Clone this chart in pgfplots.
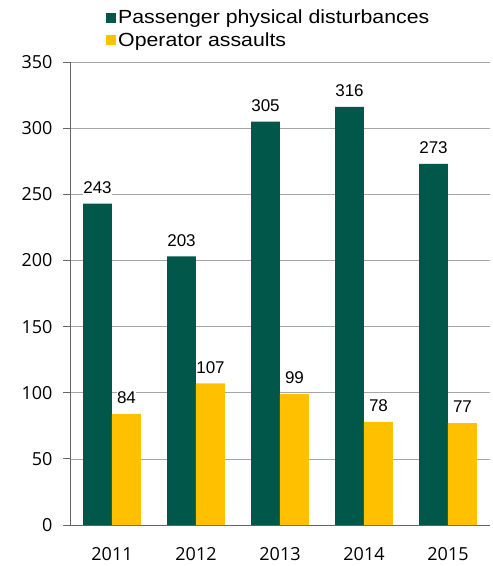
\documentclass[border=0pt]{standalone}
\usepackage{fontspec}
\setmainfont{Liberation Sans}
\newfontfamily\tickfont{Open Sans}
\newfontfamily\legendfont{Liberation Sans}[FakeStretch=1.12]
\usepackage{pgfplots}
\pgfplotsset{compat=1.18}
\definecolor{pgreen}{HTML}{02574B}
\definecolor{oyellow}{HTML}{FFC000}
\definecolor{gridgray}{HTML}{A6A6A6}
\begin{document}
\begin{tikzpicture}
\begin{axis}[
  scale only axis,
  width=420pt, height=463pt,
  ybar=0pt,
  bar width=0.345,
  xmin=-0.5, xmax=4.5,
  ymin=0, ymax=350,
  ytick={0,50,...,350},
  xtick={0,1,2,3,4},
  xticklabels={2011,2012,2013,2014,2015},
  major x tick style={draw=none},
  extra x ticks={-0.5,0.5,1.5,2.5,3.5,4.5},
  extra x tick labels={},
  extra x tick style={major tick length=7pt, tick style={draw=black!70, line width=0.8pt}, xtick align=outside},
  axis x line*=bottom, axis y line*=left,
  axis line style={-, draw=black!60, line width=0.8pt},
  ytick align=outside, ytick style={draw=black!60, line width=0.8pt},
  major tick length=7pt,
  ymajorgrids, grid style={gridgray, line width=0.7pt},
  tick label style={font=\tickfont\fontsize{18}{20}\selectfont},
  xticklabel style={yshift=-12pt},
  yticklabel style={xshift=-7pt},
  /pgf/number format/assume math mode=true,
  nodes near coords,
  every node near coord/.append style={font=\fontsize{17}{19}\selectfont, black, fill=white, inner xsep=0pt, inner ysep=2pt, yshift=8pt},
  legend style={at={(rel axis cs:0,1)}, anchor=north west, xshift=36pt, yshift=54pt, draw=none, fill=none,
    font=\legendfont\fontsize{19}{20}\selectfont, row sep=3pt, inner sep=0pt,
    nodes={inner sep=2pt}},
  legend cell align=left,
  legend image code/.code={\fill[#1] (0pt,-5pt) rectangle (10pt,5pt);},
]
\addplot[fill=pgreen, draw=none] coordinates {(0,243) (1,203) (2,305) (3,316) (4,273)};
\addplot[fill=oyellow, draw=none] coordinates {(0,84) (1,107) (2,99) (3,78) (4,77)};
\legend{Passenger physical disturbances, Operator assaults}
\end{axis}
\pgfresetboundingbox
\useasboundingbox (-70pt,-41pt) rectangle (423pt,525pt);
\end{tikzpicture}
\end{document}
